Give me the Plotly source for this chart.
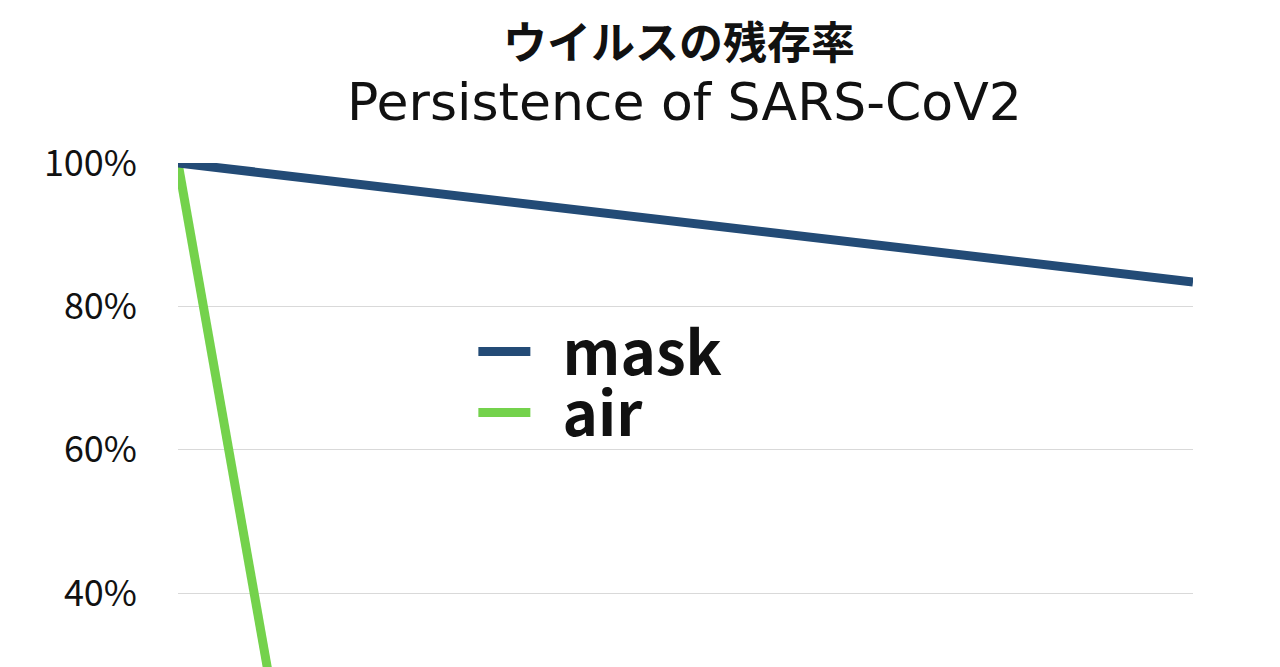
import plotly.graph_objects as go

# virus persistence (x in hours, y in %)
mask_hours = [0, 168]
mask_pct = [100, 83.4]

air_hours = [0, 21]
air_pct = [100, 0]

ytick_vals = [0, 20, 40, 60, 80, 100]
ytick_text = ["0%", "20%", "40%", "60%", "80%", "100%"]

navy = "#234b76"
green = "#74d24c"
cjk = "Noto Sans CJK JP"

fig = go.Figure()
# air drawn first so the navy mask line sits on top at the 100% corner
fig.add_trace(go.Scatter(x=air_hours, y=air_pct, mode="lines",
                         name="\u00a0\u00a0air",
                         line=dict(color=green, width=9), legend="legend2"))
fig.add_trace(go.Scatter(x=mask_hours, y=mask_pct, mode="lines",
                         name="\u00a0\u00a0mask",
                         line=dict(color=navy, width=9), legend="legend"))

# two line title, japanese bold on top
fig.add_annotation(text="<b>ウイルスの残存率</b>", xref="paper", yref="paper",
                   x=0.494, y=1.171, showarrow=False, yanchor="middle",
                   font=dict(family=cjk, size=44, color="#111111"))
fig.add_annotation(text="Persistence of SARS-CoV2", xref="paper", yref="paper",
                   x=0.499, y=1.085, showarrow=False, yanchor="middle",
                   font=dict(family="DejaVu Sans", size=52, color="#111111"))

leg_style = dict(xanchor="left", yanchor="middle", bgcolor="rgba(0,0,0,0)",
                 itemwidth=52,
                 font=dict(family=cjk, size=60, color="#111111", weight="bold"))

fig.update_layout(
    width=1280, height=960,
    margin=dict(l=170, r=95, t=155, b=88),
    plot_bgcolor="white", paper_bgcolor="white",
    font=dict(family=cjk, color="#111111"),
    showlegend=True,
    legend=dict(x=0.291, y=0.737, **leg_style),
    legend2=dict(x=0.291, y=0.652, **leg_style),
)
fig.update_xaxes(range=[0, 168], showgrid=False, zeroline=False,
                 showticklabels=False, showline=False)
fig.update_yaxes(range=[0, 100], tickvals=ytick_vals, ticktext=ytick_text,
                 showgrid=True, gridcolor="#d9d9d9", gridwidth=1,
                 zeroline=False, showline=False, ticklabelstandoff=40,
                 tickfont=dict(family=cjk, size=36, color="#111111"))

fig.write_html("out.html")
